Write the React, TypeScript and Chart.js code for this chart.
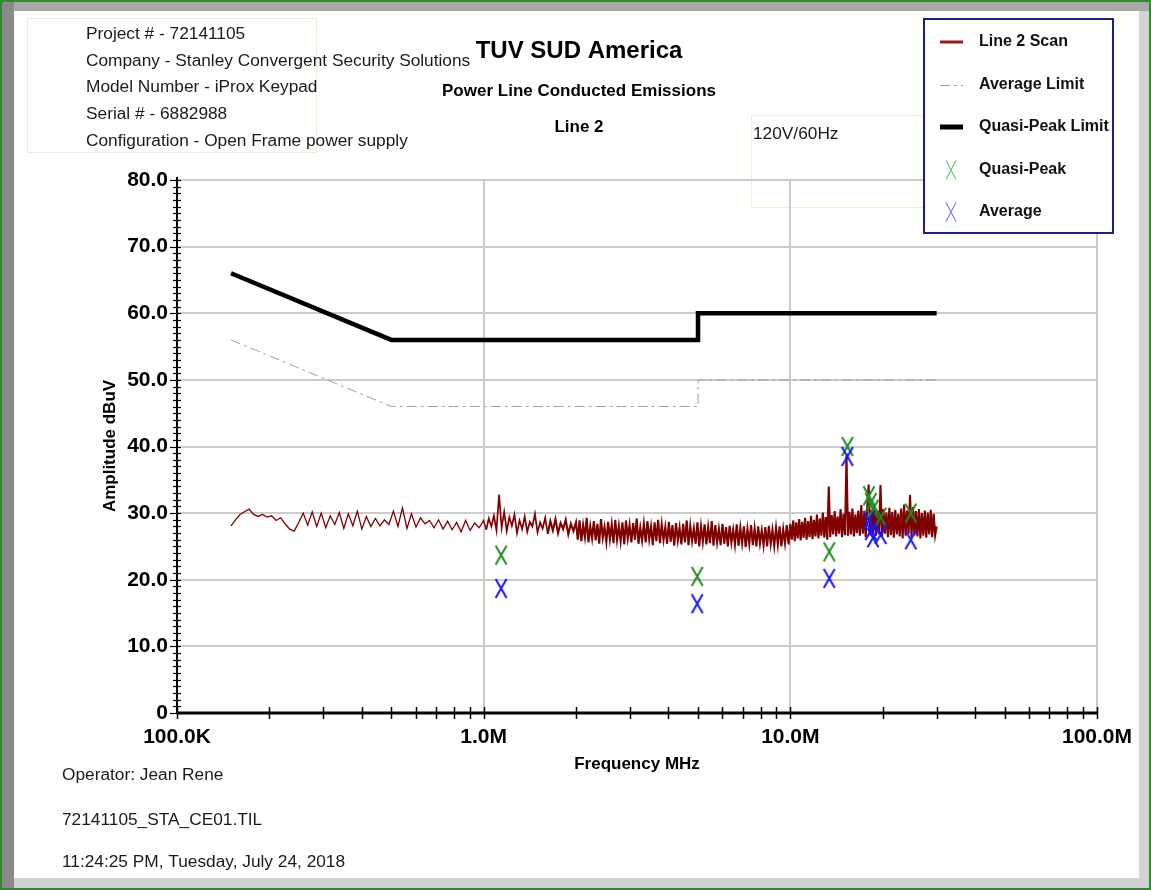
import { useEffect, useRef } from "react";
import { Chart, registerables } from "chart.js";

Chart.register(...registerables);

const FONT = "'Liberation Sans', Arial, sans-serif";

// ---- axes ----
const xTickValues = [0.1, 1, 10, 100];
const xTickLabels = ["100.0K", "1.0M", "10.0M", "100.0M"];
const yTickValues = [0, 10, 20, 30, 40, 50, 60, 70, 80];
const yTickLabels = ["0", "10.0", "20.0", "30.0", "40.0", "50.0", "60.0", "70.0", "80.0"];

// ---- limits (MHz, dBuV) ----
const qpLimitFreq = [0.15, 0.5, 5, 5, 30];
const qpLimitAmp = [66, 56, 56, 60, 60];
const avgLimitFreq = [0.15, 0.5, 5, 5, 30];
const avgLimitAmp = [56, 46, 46, 50, 50];

// ---- measured points ----
const qpFreq = [1.14, 4.97, 13.4, 15.35, 18.05, 18.3, 18.6, 19.7, 24.7];
const qpAmp = [23.7, 20.5, 24.2, 40.0, 32.6, 31.6, 30.6, 29.4, 30.0];
const avFreq = [1.14, 4.97, 13.4, 15.35, 18.05, 18.3, 18.6, 19.7, 24.7];
const avAmp = [18.7, 16.4, 20.2, 38.5, 28.9, 27.4, 26.3, 26.8, 26.0];

// ---- scan trace: sweep bands (start/stop MHz) and amplitudes ----
const scanBand1 = [0.15, 1.0];
const scanAmp1 = [
  28.1, 29.0, 29.8, 30.2, 30.6, 29.8, 29.5, 29.8, 29.4, 29.6,
  28.9, 29.3, 28.4, 27.6, 27.3, 28.6, 30.0, 28.2, 30.2, 28.0,
  30.0, 27.8, 29.6, 28.3, 30.1, 27.7, 29.9, 28.1, 30.3, 27.6,
  29.5, 28.0, 29.2, 28.1, 29.0, 28.3, 30.3, 28.0, 30.8, 27.7,
  29.9, 27.9, 29.3, 28.4, 28.9, 27.8, 29.0, 27.6, 28.8, 27.5,
  28.6, 27.2, 28.9, 27.4, 28.5, 27.8,
];
const scanBand2 = [1.0, 2.0];
const scanAmp2 = [
  28.9, 27.5, 29.2, 28.0, 29.6, 27.4, 32.8, 27.8, 30.2, 27.3,
  29.4, 28.1, 29.8, 27.0, 28.9, 27.6, 29.5, 27.2, 28.7, 28.0,
  29.9, 27.1, 28.6, 27.7, 29.3, 26.9, 28.8, 27.4, 29.1, 27.0,
  28.5, 27.6, 29.0, 26.8, 28.4, 27.3,
];
const scanBand3 = [2.0, 10.0];
const scanAmp3 = [
  28.6, 26.0, 28.9, 25.8, 28.2, 26.4, 29.3, 25.6, 28.0, 26.2,
  28.8, 25.9, 28.4, 25.4, 29.1, 26.3, 27.9, 25.7, 28.7, 26.1,
  28.3, 25.5, 29.0, 26.0, 28.1, 25.8, 28.6, 25.3, 28.9, 26.2,
  28.2, 25.6, 28.5, 26.0, 29.2, 25.4, 27.8, 25.9, 28.4, 25.6,
  28.8, 26.1, 28.0, 25.2, 28.6, 25.8, 29.0, 25.5, 28.3, 26.0,
  27.9, 25.4, 28.7, 25.7, 28.2, 25.1, 28.5, 25.9, 27.8, 25.3,
  28.4, 25.6, 28.9, 25.2, 28.1, 25.8, 27.7, 25.4, 28.6, 25.0,
  28.0, 25.7, 28.3, 25.3, 27.9, 25.5, 28.8, 25.1, 28.2, 25.6,
  27.6, 25.2, 28.4, 25.4, 27.9, 25.0, 28.1, 25.6, 27.5, 25.3,
  28.3, 25.1, 27.8, 25.5, 28.0, 24.9, 27.6, 25.4, 28.2, 25.2,
  27.7, 25.0, 28.0, 25.5, 27.4, 25.2, 27.9, 25.0, 28.1, 25.4,
  27.5, 25.1, 27.8, 25.3, 28.0, 25.0, 27.6, 25.5, 28.2, 25.3,
];
const scanBand4 = [10.0, 30.0];
const scanAmp4 = [
  28.4, 26.0, 28.9, 25.8, 28.6, 26.2, 29.1, 25.9, 28.7, 26.3,
  29.3, 26.0, 28.8, 26.4, 29.6, 26.1, 29.0, 26.5, 29.8, 26.2,
  29.2, 26.6, 30.1, 26.3, 29.4, 26.0, 34.0, 26.4, 29.7, 26.8,
  30.3, 26.5, 29.5, 26.9, 30.6, 26.4, 29.9, 26.7, 38.6, 26.6,
  30.2, 26.8, 30.7, 26.5, 29.8, 27.0, 30.4, 26.6, 31.2, 26.9,
  30.0, 26.4, 30.8, 34.3, 26.7, 30.5, 27.0, 31.0, 26.6, 30.3,
  26.8, 34.2, 26.5, 30.6, 26.9, 30.1, 26.4, 30.8, 26.7, 30.2,
  26.3, 30.5, 26.8, 29.9, 26.5, 30.7, 26.2, 31.3, 26.6, 30.4,
  26.9, 32.7, 26.4, 30.9, 26.7, 30.3, 26.5, 30.6, 26.2, 30.0,
  26.6, 30.4, 26.3, 30.1, 26.8, 30.5, 26.4, 29.9, 26.7, 28.0,
];

const infoLines = [
  "Project # - 72141105",
  "Company - Stanley Convergent Security Solutions",
  "Model Number - iProx Keypad",
  "Serial # - 6882988",
  "Configuration - Open Frame power supply",
];
const footerLines = ["Operator: Jean Rene", "72141105_STA_CE01.TIL", "11:24:25 PM, Tuesday, July 24, 2018"];
const legendLabels = ["Line 2 Scan", "Average Limit", "Quasi-Peak Limit", "Quasi-Peak", "Average"];

const SCAN_COLOR = "#800000";
const QP_COLOR = "#1e8c1e";
const AV_COLOR = "#1414ff";

function sweep(band: number[], amps: number[], last: boolean) {
  const [a, b] = band;
  const n = amps.length;
  const div = last ? n - 1 : n;
  return amps.map((y, i) => ({ x: a * Math.pow(b / a, i / div), y }));
}

function makeX(color: string, w: number, h: number, lw: number) {
  const c = document.createElement("canvas");
  c.width = w;
  c.height = h;
  const g = c.getContext("2d")!;
  g.strokeStyle = color;
  g.lineWidth = lw;
  g.beginPath();
  g.moveTo(1.5, 1);
  g.lineTo(w - 1.5, h - 1);
  g.moveTo(w - 1.5, 1);
  g.lineTo(1.5, h - 1);
  g.stroke();
  return c;
}

function drawX(ctx: CanvasRenderingContext2D, cx: number, cy: number, w: number, h: number, color: string) {
  ctx.strokeStyle = color;
  ctx.lineWidth = 1.2;
  ctx.beginPath();
  ctx.moveTo(cx - w / 2, cy - h / 2);
  ctx.lineTo(cx + w / 2, cy + h / 2);
  ctx.moveTo(cx + w / 2, cy - h / 2);
  ctx.lineTo(cx - w / 2, cy + h / 2);
  ctx.stroke();
}

const decor = {
  id: "decor",
  beforeDraw(chart: any) {
    const ctx: CanvasRenderingContext2D = chart.ctx;
    const W = chart.width;
    const H = chart.height;
    ctx.save();
    ctx.fillStyle = "#2e8b2e";
    ctx.fillRect(0, 0, W, H);
    ctx.fillStyle = "#a8a8a8";
    ctx.fillRect(2, 2, W - 4, 9);
    ctx.fillStyle = "#8a8a8a";
    ctx.fillRect(2, 2, 12, H - 4);
    ctx.fillStyle = "#d4d4d4";
    ctx.fillRect(W - 12, 11, 10, H - 13);
    ctx.fillStyle = "#d0d0d0";
    ctx.fillRect(14, H - 12, W - 16, 10);
    ctx.fillStyle = "#ffffff";
    ctx.fillRect(14, 11, W - 26, H - 23);

    // faint boxes
    ctx.strokeStyle = "#f6ead0";
    ctx.lineWidth = 1;
    ctx.strokeRect(27.5, 18.5, 289, 134);
    ctx.strokeRect(751.5, 115.5, 175, 92);

    ctx.fillStyle = "#1a1a1a";
    ctx.textBaseline = "middle";
    ctx.textAlign = "left";
    ctx.font = `17.3px ${FONT}`;
    const infoY = [34, 61, 87, 114, 141];
    infoLines.forEach((t, i) => ctx.fillText(t, 86, infoY[i]));
    ctx.fillText("120V/60Hz", 753, 134);
    const footY = [775, 820, 862];
    footerLines.forEach((t, i) => ctx.fillText(t, 62, footY[i]));

    ctx.fillStyle = "#000";
    ctx.textAlign = "center";
    ctx.font = `bold 24px ${FONT}`;
    ctx.fillText("TUV SUD America", 579, 51);
    ctx.font = `bold 17px ${FONT}`;
    ctx.fillText("Power Line Conducted Emissions", 579, 91);
    ctx.fillText("Line 2", 579, 127);

    const area = chart.chartArea;
    ctx.fillText("Frequency MHz", (area.left + area.right) / 2, 764);
    ctx.save();
    ctx.translate(110, 446);
    ctx.rotate(-Math.PI / 2);
    ctx.fillText("Amplitude dBuV", 0, 0);
    ctx.restore();
    ctx.restore();
  },
  afterDraw(chart: any) {
    const ctx: CanvasRenderingContext2D = chart.ctx;
    const area = chart.chartArea;
    const xs = chart.scales.x;
    const ys = chart.scales.y;
    ctx.save();
    ctx.strokeStyle = "#000";
    // y axis line + ticks
    ctx.lineWidth = 2;
    ctx.beginPath();
    ctx.moveTo(area.left, area.top - 3);
    ctx.lineTo(area.left, area.bottom);
    ctx.stroke();
    ctx.lineWidth = 1.2;
    for (let v = ys.min; v <= ys.max; v += 1) {
      const y = Math.round(ys.getPixelForValue(v)) + 0.5;
      const major = v % 10 === 0;
      ctx.beginPath();
      ctx.moveTo(area.left - (major ? 7 : 4), y);
      ctx.lineTo(area.left + 4, y);
      ctx.stroke();
    }
    // x axis line + ticks
    ctx.lineWidth = 3;
    ctx.beginPath();
    ctx.moveTo(area.left, area.bottom);
    ctx.lineTo(area.right, area.bottom);
    ctx.stroke();
    ctx.lineWidth = 1.5;
    for (let d = xs.min; d < xs.max * 1.0001; d *= 10) {
      for (let m = 1; m <= 9; m++) {
        const f = d * m;
        if (f > xs.max * 1.0001) break;
        const x = Math.round(xs.getPixelForValue(f)) + 0.5;
        ctx.beginPath();
        ctx.moveTo(x, area.bottom - 6);
        ctx.lineTo(x, area.bottom + 6);
        ctx.stroke();
      }
    }

    // legend
    const lx = 924, ly = 19, lw = 189, lh = 214;
    ctx.fillStyle = "#fff";
    ctx.fillRect(lx, ly, lw, lh);
    ctx.strokeStyle = "#1c1c8c";
    ctx.lineWidth = 2;
    ctx.strokeRect(lx, ly, lw, lh);
    const rows = [42, 85, 127, 170, 212];
    ctx.font = `bold 16px ${FONT}`;
    ctx.textAlign = "left";
    ctx.textBaseline = "middle";
    ctx.fillStyle = "#111";
    legendLabels.forEach((t, i) => ctx.fillText(t, 979, rows[i]));
    // samples
    ctx.lineCap = "butt";
    ctx.strokeStyle = "#9b1b1b";
    ctx.lineWidth = 3;
    ctx.beginPath();
    ctx.moveTo(940, rows[0]);
    ctx.lineTo(963, rows[0]);
    ctx.stroke();
    ctx.strokeStyle = "#a0a0a0";
    ctx.lineWidth = 1;
    ctx.setLineDash([10, 4, 3, 4]);
    ctx.beginPath();
    ctx.moveTo(940, rows[1] + 0.5);
    ctx.lineTo(963, rows[1] + 0.5);
    ctx.stroke();
    ctx.setLineDash([]);
    ctx.strokeStyle = "#000";
    ctx.lineWidth = 5;
    ctx.beginPath();
    ctx.moveTo(940, rows[2]);
    ctx.lineTo(963, rows[2]);
    ctx.stroke();
    drawX(ctx, 951, rows[3], 10, 19, "#6cc46c");
    drawX(ctx, 951, rows[4], 10, 19, "#7a7aff");
    ctx.restore();
  },
};

export default function App() {
  const ref = useRef<HTMLCanvasElement>(null);
  useEffect(() => {
    const canvas = ref.current!;
    const qpImg = makeX(QP_COLOR, 14, 21, 2);
    const avImg = makeX(AV_COLOR, 14, 21, 2);

    const scan = [
      ...sweep(scanBand1, scanAmp1, false),
      ...sweep(scanBand2, scanAmp2, false),
      ...sweep(scanBand3, scanAmp3, false),
      ...sweep(scanBand4, scanAmp4, true),
    ];

    const tickFont = { family: FONT, size: 21, weight: "bold" as const };

    const chart = new Chart(canvas, {
      type: "line",
      data: {
        datasets: [
          {
            label: "Average",
            data: avFreq.map((x, i) => ({ x, y: avAmp[i] })),
            showLine: false,
            pointStyle: avImg as any,
            pointRadius: 8,
            borderColor: AV_COLOR,
            backgroundColor: AV_COLOR,
          },
          {
            label: "Quasi-Peak",
            data: qpFreq.map((x, i) => ({ x, y: qpAmp[i] })),
            showLine: false,
            pointStyle: qpImg as any,
            pointRadius: 8,
            borderColor: QP_COLOR,
            backgroundColor: QP_COLOR,
          },
          {
            label: "Line 2 Scan",
            data: scan,
            borderColor: SCAN_COLOR,
            borderWidth: 1.3,
            pointRadius: 0,
            tension: 0,
            segment: {
              borderWidth: (c: any) => (c.p0.parsed.x > 1.6 ? 2.1 : c.p0.parsed.x > 1.0 ? 1.7 : 1.3),
            },
          },
          {
            label: "Quasi-Peak Limit",
            data: qpLimitFreq.map((x, i) => ({ x, y: qpLimitAmp[i] })),
            borderColor: "#000",
            borderWidth: 4.5,
            pointRadius: 0,
            tension: 0,
          },
          {
            label: "Average Limit",
            data: avgLimitFreq.map((x, i) => ({ x, y: avgLimitAmp[i] })),
            borderColor: "#a0a0a0",
            borderWidth: 1,
            borderDash: [10, 4, 3, 4],
            pointRadius: 0,
            tension: 0,
          },
        ],
      },
      options: {
        responsive: false,
        animation: false,
        devicePixelRatio: 1,
        layout: { padding: { left: 0, top: 180, right: 54, bottom: 0 } },
        plugins: {
          legend: { display: false },
          tooltip: { enabled: false },
          title: { display: false },
        },
        scales: {
          x: {
            type: "logarithmic",
            min: 0.1,
            max: 100,
            afterBuildTicks: (s: any) => {
              s.ticks = xTickValues.map((v) => ({ value: v }));
            },
            afterFit: (s: any) => {
              s.height = 177;
            },
            grid: { color: "#cbcbcb", lineWidth: 2, drawTicks: false },
            border: { display: false },
            ticks: {
              autoSkip: false,
              maxRotation: 0,
              padding: 12,
              color: "#000",
              font: tickFont,
              callback: (_v: any, i: number) => xTickLabels[i],
            },
          },
          y: {
            type: "linear",
            min: 0,
            max: 80,
            afterBuildTicks: (s: any) => {
              s.ticks = yTickValues.map((v) => ({ value: v }));
            },
            afterFit: (s: any) => {
              s.width = 177;
            },
            grid: { color: "#cbcbcb", lineWidth: 2, drawTicks: false },
            border: { display: false },
            ticks: {
              padding: 9,
              color: "#000",
              font: tickFont,
              callback: (_v: any, i: number) => yTickLabels[i],
            },
          },
        },
      },
      plugins: [decor],
    });
    return () => chart.destroy();
  }, []);

  return (
    <div style={{ position: "absolute", left: 0, top: 0, width: 1151, height: 890 }}>
      <canvas ref={ref} width={1151} height={890} style={{ display: "block" }} />
    </div>
  );
}
